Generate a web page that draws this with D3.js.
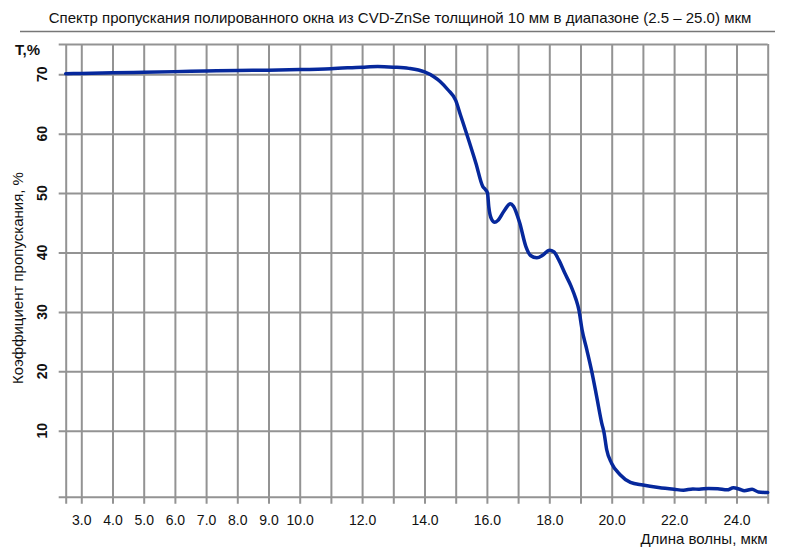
<!DOCTYPE html>
<html>
<head>
<meta charset="utf-8">
<script src="https://cdn.jsdelivr.net/npm/d3@7"></script>
<style>
	body { margin: 0; background: #fff; }
	svg { display: block; font-family: "Liberation Sans", Arial, sans-serif; }
</style>
</head>
<body>
<svg id="chart"></svg>
<script>
// wavelength, µm
const wavelength = [2.5, 3.0, 4.0, 5.0, 6.0, 7.0, 8.0, 9.0, 10.0, 11.0, 12.0, 12.5, 13.0, 13.5, 14.0, 14.3, 14.5, 14.75,
	15.0, 15.15, 15.35, 15.65, 15.87, 15.95, 16.02, 16.06, 16.15, 16.25, 16.35, 16.55, 16.75, 16.85, 17.05, 17.25,
	17.4, 17.6, 17.8, 18.0, 18.15, 18.3, 18.5, 18.7, 18.85, 18.95, 19.05, 19.2, 19.36, 19.52, 19.68, 19.75, 19.84,
	20.0, 20.27, 20.6, 21.0, 21.5, 22.0, 22.3, 22.6, 22.8, 23.1, 23.4, 23.7, 23.9, 24.1, 24.25, 24.5, 24.7, 25.0];
// transmission, %
const transmission = [70.1, 70.15, 70.25, 70.35, 70.45, 70.55, 70.65, 70.7, 70.8, 70.95, 71.2, 71.3, 71.2, 71.0, 70.4, 69.6, 68.8, 67.4,
	65.6, 63.2, 60.0, 55.0, 51.1, 50.6, 50.0, 47.7, 45.6, 45.1, 45.4, 47.0, 48.2, 47.8, 45.0, 41.0,
	39.5, 39.1, 39.6, 40.4, 40.1, 38.8, 36.5, 34.3, 32.2, 30.3, 27.0, 23.7, 20.0, 15.7, 11.3, 9.8, 6.8,
	4.5, 2.6, 1.3, 0.86, 0.45, 0.15, 0.0, 0.2, 0.15, 0.3, 0.25, 0.05, 0.4, 0.15, -0.1, 0.15, -0.3, -0.4];

const xGrid = [2.5, 3, 4, 5, 6, 7, 8, 9, 10, 11, 12, 13, 14, 15, 16, 17, 18, 19, 20, 21, 22, 23, 24, 25];
const xLabels = [3, 4, 5, 6, 7, 8, 9, 10, 12, 14, 16, 18, 20, 22, 24];
const yLabels = [10, 20, 30, 40, 50, 60, 70];
const yDomain = [-1.1, 75.1];

const title = "Спектр пропускания полированного окна из CVD-ZnSe толщиной 10 мм в диапазоне (2.5 – 25.0) мкм";
const yTitle = "Коэффициент пропускания, %";
const xTitle = "Длина волны, мкм";
const yUnit = "T,%";

const config = {
	width: 800, height: 551,
	left: 65.7, right: 767.7, top: 44, bottom: 496.7,
	grid: "#939393", line: "#06289c"
};

const svg = d3.select("#chart")
	.attr("width", config.width)
	.attr("height", config.height);

const x = d3.scaleLinear().domain([2.5, 25]).range([config.left, config.right]);
const y = d3.scaleLinear().domain(yDomain).range([config.bottom, config.top]);

// title + rule under it
svg.append("text")
	.attr("x", 400).attr("y", 23)
	.attr("text-anchor", "middle")
	.attr("font-size", "15px")
	.attr("fill", "#111")
	.text(title);
svg.append("line")
	.attr("x1", 20).attr("x2", 775)
	.attr("y1", 31.5).attr("y2", 31.5)
	.attr("stroke", "#777").attr("stroke-width", 1.5);

// vertical grid (extends 7px below the plot as ticks)
const xAxis = svg.append("g")
	.attr("transform", `translate(0, ${config.bottom + 7})`)
	.call(d3.axisBottom(x)
		.tickValues(xGrid)
		.tickSize(-(config.bottom + 7 - config.top))
		.tickPadding(11)
		.tickFormat(d => xLabels.includes(d) ? d.toFixed(1) : ""));
xAxis.select(".domain").remove();
xAxis.selectAll("line").attr("stroke", config.grid).attr("stroke-width", 2);
xAxis.selectAll("text").attr("font-size", "14px").attr("fill", "#111");

// horizontal grid (extends 7px left of the plot)
const yAxis = svg.append("g")
	.attr("transform", `translate(${config.left - 7}, 0)`)
	.call(d3.axisLeft(y)
		.tickValues([yDomain[0], ...yLabels, yDomain[1]])
		.tickSize(-(config.right - config.left + 7))
		.tickFormat(""));
yAxis.select(".domain").remove();
yAxis.selectAll("line").attr("stroke", config.grid).attr("stroke-width", 2);

// rotated y labels
svg.append("g").selectAll("text")
	.data(yLabels)
	.join("text")
	.attr("transform", d => `translate(47, ${y(d)}) rotate(-90)`)
	.attr("text-anchor", "middle")
	.attr("font-size", "14px")
	.attr("font-weight", "bold")
	.attr("fill", "#111")
	.text(d => d);

svg.append("text")
	.attr("x", 15).attr("y", 55)
	.attr("font-size", "15px")
	.attr("font-weight", "bold")
	.attr("fill", "#111")
	.text(yUnit);

svg.append("text")
	.attr("transform", `translate(23, 278) rotate(-90)`)
	.attr("text-anchor", "middle")
	.attr("font-size", "15px")
	.attr("fill", "#111")
	.text(yTitle);

svg.append("text")
	.attr("x", config.right).attr("y", 544)
	.attr("text-anchor", "end")
	.attr("font-size", "15px")
	.attr("fill", "#111")
	.text(xTitle);

// transmission curve
const line = d3.line()
	.x((d, i) => x(wavelength[i]))
	.y(d => y(d))
	.curve(d3.curveMonotoneX);

svg.append("path")
	.datum(transmission)
	.attr("fill", "none")
	.attr("stroke", config.line)
	.attr("stroke-width", 3.5)
	.attr("stroke-linejoin", "round")
	.attr("stroke-linecap", "round")
	.attr("d", line);
</script>
</body>
</html>
